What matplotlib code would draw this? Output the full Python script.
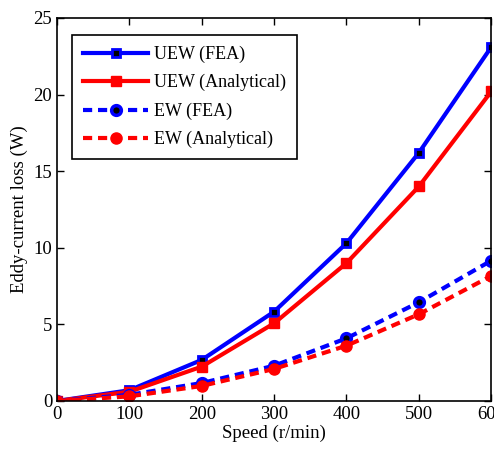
import numpy as np
import matplotlib
matplotlib.use('Agg')
import matplotlib.pyplot as plt

plt.rcParams['font.family'] = ['Liberation Serif', 'DejaVu Serif']

speed = [0, 100, 200, 300, 400, 500, 600]
uew_fea = [0, 0.7, 2.68, 5.83, 10.3, 16.2, 23.1]
uew_ana = [0, 0.6, 2.24, 5.07, 9.0, 14.0, 20.2]
ew_fea = [0, 0.4, 1.17, 2.3, 4.09, 6.44, 9.16]
ew_ana = [0, 0.3, 0.98, 2.09, 3.61, 5.66, 8.16]

fig = plt.figure(figsize=(4.94, 4.49), dpi=100)
ax = fig.add_axes([0.1154, 0.107, 0.879, 0.853])

lw = 3
ax.plot(speed, uew_fea, '-', color='blue', lw=lw, marker='s', ms=6,
        mfc='black', mec='blue', mew=2, label='UEW (FEA)')
ax.plot(speed, uew_ana, '-', color='red', lw=lw, marker='s', ms=7,
        mfc='red', mec='red', label='UEW (Analytical)')
ax.plot(speed, ew_fea, '--', color='blue', lw=lw, marker='o', ms=7,
        mfc='black', mec='blue', mew=2.5, label='EW (FEA)', dashes=(2.2, 1.4))
ax.plot(speed, ew_ana, '--', color='red', lw=lw, marker='o', ms=8,
        mfc='red', mec='red', label='EW (Analytical)', dashes=(2.2, 1.4))

ax.set_xlim(0, 600)
ax.set_ylim(0, 25)
ax.set_xticks([0, 100, 200, 300, 400, 500, 600])
ax.set_yticks([0, 5, 10, 15, 20, 25])
ax.tick_params(direction='in', top=True, right=True, labelsize=13.5, length=5, width=1)
for s in ax.spines.values():
    s.set_linewidth(1.2)
ax.set_xlabel('Speed (r/min)', fontsize=13.5, labelpad=1)
ax.set_ylabel('Eddy-current loss (W)', fontsize=13.5, labelpad=4)

leg = ax.legend(loc='upper left', bbox_to_anchor=(0.035, 0.956), fontsize=13,
                fancybox=False, edgecolor='black', framealpha=1, borderaxespad=0,
                handlelength=3.6, borderpad=0.6, labelspacing=0.62, handletextpad=0.35)
leg.get_frame().set_linewidth(1.2)

fig.savefig('out.png', dpi=100)
